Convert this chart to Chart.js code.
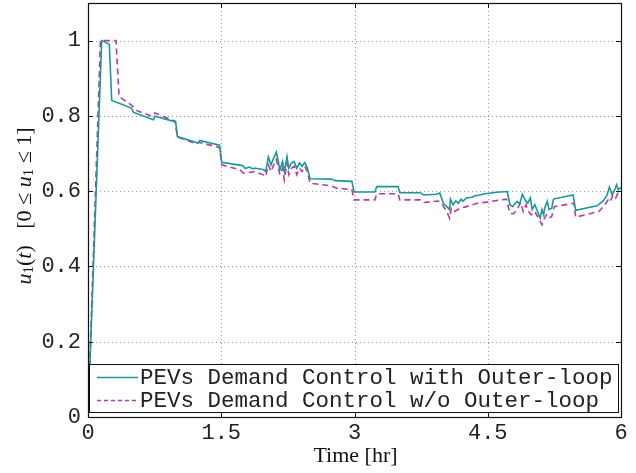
<!DOCTYPE html>
<html>
<head>
<meta charset="utf-8">
<script src="https://cdn.jsdelivr.net/npm/chart.js@4/dist/chart.umd.min.js"></script>
<style>
  html, body { margin: 0; padding: 0; background: #fff; }
  #wrap { width: 636px; height: 473px; }
</style>
</head>
<body>
<div id="wrap"><canvas id="myChart" width="636" height="473"></canvas></div>
<script>
"use strict";

// with outer-loop (teal, solid)
const withTime = [0, 0.154, 0.24, 0.267, 0.49, 0.51, 0.735, 0.754, 0.987, 1.006,
  1.24, 1.26, 1.48, 1.505, 1.74, 1.77, 1.815, 1.85, 1.88, 1.94,
  1.98, 2.0, 2.03, 2.06, 2.09, 2.12, 2.16, 2.19, 2.21, 2.24,
  2.26, 2.29, 2.32, 2.35, 2.38, 2.41, 2.44, 2.47, 2.5, 2.74,
  2.78, 2.97, 2.995, 3.23, 3.25, 3.49, 3.51, 3.74, 3.78, 3.92,
  3.96, 4.0, 4.04, 4.07, 4.08, 4.11, 4.14, 4.17, 4.2, 4.22,
  4.26, 4.32, 4.36, 4.41, 4.47, 4.6, 4.72, 4.75, 4.78, 4.81,
  4.83, 4.86, 4.89, 4.92, 4.95, 4.98, 5.0, 5.03, 5.06, 5.09,
  5.11, 5.13, 5.14, 5.17, 5.19, 5.22, 5.24, 5.46, 5.49, 5.73,
  5.8, 5.84, 5.87, 5.9, 5.93, 5.95, 5.97, 6.0];
const withValues = [0, 1.0, 0.99, 0.841, 0.821, 0.81, 0.79, 0.799, 0.784, 0.745,
  0.728, 0.735, 0.722, 0.677, 0.668, 0.66, 0.664, 0.66, 0.661, 0.659,
  0.657, 0.652, 0.691, 0.67, 0.688, 0.704, 0.657, 0.679, 0.652, 0.692,
  0.661, 0.675, 0.679, 0.661, 0.675, 0.666, 0.676, 0.661, 0.633, 0.632,
  0.628, 0.626, 0.598, 0.598, 0.612, 0.612, 0.596, 0.596, 0.59, 0.592,
  0.595, 0.568, 0.559, 0.551, 0.579, 0.564, 0.574, 0.568, 0.579, 0.573,
  0.582, 0.584, 0.588, 0.59, 0.593, 0.597, 0.599, 0.564, 0.559, 0.568,
  0.573, 0.566, 0.592, 0.577, 0.568, 0.582, 0.551, 0.564, 0.546, 0.528,
  0.551, 0.537, 0.555, 0.573, 0.551, 0.555, 0.579, 0.59, 0.549, 0.561,
  0.574, 0.588, 0.611, 0.59, 0.604, 0.617, 0.604, 0.61];

// without outer-loop (magenta, dashed)
const woTime = [0, 0.14, 0.315, 0.35, 0.51, 0.55, 0.72, 0.754, 0.98, 1.006,
  1.22, 1.25, 1.48, 1.505, 1.71, 1.75, 1.88, 1.97, 2.0, 2.03,
  2.06, 2.09, 2.12, 2.16, 2.19, 2.21, 2.24, 2.26, 2.29, 2.32,
  2.35, 2.38, 2.41, 2.44, 2.47, 2.5, 2.74, 2.8, 2.97, 2.995,
  3.23, 3.25, 3.49, 3.51, 3.74, 3.78, 3.94, 3.99, 4.04, 4.07,
  4.09, 4.13, 4.19, 4.26, 4.38, 4.49, 4.71, 4.75, 4.79, 4.83,
  4.87, 4.9, 4.93, 4.95, 4.99, 5.03, 5.06, 5.11, 5.13, 5.16,
  5.19, 5.22, 5.25, 5.47, 5.49, 5.75, 5.82, 5.86, 5.88, 5.91,
  5.94, 5.97, 6.0];
const woValues = [0, 1.0, 1.0, 0.852, 0.825, 0.814, 0.799, 0.808, 0.786, 0.744,
  0.726, 0.73, 0.716, 0.67, 0.657, 0.648, 0.652, 0.644, 0.639, 0.67,
  0.652, 0.67, 0.684, 0.644, 0.661, 0.63, 0.675, 0.644, 0.661, 0.666,
  0.644, 0.661, 0.652, 0.666, 0.652, 0.621, 0.614, 0.608, 0.604, 0.577,
  0.577, 0.593, 0.593, 0.577, 0.577, 0.57, 0.574, 0.564, 0.546, 0.528,
  0.555, 0.546, 0.555, 0.559, 0.568, 0.571, 0.579, 0.541, 0.54, 0.551,
  0.57, 0.546, 0.564, 0.549, 0.537, 0.546, 0.533, 0.511, 0.524, 0.537,
  0.528, 0.533, 0.559, 0.568, 0.531, 0.546, 0.564, 0.579, 0.573, 0.59,
  0.582, 0.597, 0.6];

const seriesNames = ["PEVs Demand Control with Outer-loop", "PEVs Demand Control w/o Outer-loop"];
const xTicks = [0, 1.5, 3, 4.5, 6];
const yTicks = [0, 0.2, 0.4, 0.6, 0.8, 1];

const tealColor = "rgb(28,150,150)";
const magentaColor = "rgb(180,60,165)";
const monoFont = "'Liberation Mono', 'DejaVu Sans Mono', monospace";
const serifFont = "'Liberation Serif', 'DejaVu Serif', serif";

function toPoints(times, values) {
  let pts = [];
  for (let i = 0; i < times.length; i++) {
    pts.push({ x: times[i], y: values[i] });
  }
  return pts;
}

// box, dotted grid and inward tick marks, matlab style
const frame = {
  id: "frame",
  beforeDatasetsDraw(chart) {
    const ctx = chart.ctx;
    const a = chart.chartArea;
    const xs = chart.scales.x;
    const ys = chart.scales.y;
    ctx.save();
    ctx.strokeStyle = "#9a9a9a";
    ctx.lineWidth = 1;
    ctx.setLineDash([1, 3]);
    xTicks.forEach(function (t) {
      if (t === 0 || t === 6) return;
      const px = Math.round(xs.getPixelForValue(t)) + 0.5;
      ctx.beginPath();
      ctx.moveTo(px, a.top);
      ctx.lineTo(px, a.bottom);
      ctx.stroke();
    });
    yTicks.forEach(function (t) {
      if (t === 0) return;
      const py = Math.round(ys.getPixelForValue(t)) + 0.5;
      ctx.beginPath();
      ctx.moveTo(a.left, py);
      ctx.lineTo(a.right, py);
      ctx.stroke();
    });
    ctx.restore();
  },
  afterDraw(chart) {
    const ctx = chart.ctx;
    const a = chart.chartArea;
    const xs = chart.scales.x;
    const ys = chart.scales.y;
    ctx.save();
    ctx.strokeStyle = "#111";
    ctx.lineWidth = 1;
    ctx.setLineDash([]);
    xTicks.forEach(function (t) {
      const px = Math.round(xs.getPixelForValue(t)) + 0.5;
      ctx.beginPath();
      ctx.moveTo(px, a.bottom);
      ctx.lineTo(px, a.bottom - 5);
      ctx.moveTo(px, a.top);
      ctx.lineTo(px, a.top + 5);
      ctx.stroke();
    });
    yTicks.forEach(function (t) {
      const py = Math.round(ys.getPixelForValue(t)) + 0.5;
      ctx.beginPath();
      ctx.moveTo(a.left, py);
      ctx.lineTo(a.left + 5, py);
      ctx.moveTo(a.right, py);
      ctx.lineTo(a.right - 5, py);
      ctx.stroke();
    });

    // legend box
    const lx = a.left + 1, ly = 364, lw = a.right - a.left - 3, lh = 48;
    ctx.fillStyle = "#fff";
    ctx.fillRect(lx, ly, lw, lh);
    ctx.strokeRect(lx + 0.5, ly + 0.5, lw - 1, lh);
    ctx.font = "22.5px " + monoFont;
    ctx.fillStyle = "#222";
    ctx.textBaseline = "middle";
    ctx.textAlign = "left";
    const rows = [ly + 13, ly + 36];
    const colors = [tealColor, magentaColor];
    const dashes = [[], [4, 3]];
    for (let i = 0; i < 2; i++) {
      ctx.strokeStyle = colors[i];
      ctx.lineWidth = 1.5;
      ctx.setLineDash(dashes[i]);
      ctx.beginPath();
      ctx.moveTo(a.left + 9, rows[i] + 0.5);
      ctx.lineTo(a.left + 50, rows[i] + 0.5);
      ctx.stroke();
      ctx.fillText(seriesNames[i], a.left + 52, rows[i] + 1);
    }

    // outer box on top
    ctx.setLineDash([]);
    ctx.strokeStyle = "#111";
    ctx.lineWidth = 1.2;
    ctx.strokeRect(a.left + 0.5, a.top + 0.5, a.right - a.left, a.bottom - a.top);

    // x title
    ctx.fillStyle = "#111";
    ctx.font = "22px " + serifFont;
    ctx.textAlign = "center";
    ctx.fillText("Time [hr]", (a.left + a.right) / 2 + 1, 456);

    // y title, rotated, mixed italic pieces
    const big = "22px " + serifFont;
    const ital = "italic 22px " + serifFont;
    const sub = "15px " + serifFont;
    const pieces = [
      { t: "u", f: ital, dy: 0 },
      { t: "1", f: sub, dy: 4 },
      { t: "(", f: big, dy: 0 },
      { t: "t", f: ital, dy: 0 },
      { t: ")", f: big, dy: 0 },
      { t: "   [0 ", f: big, dy: 0 },
      { t: "\u2264", f: big, dy: 0 },
      { t: " ", f: big, dy: 0 },
      { t: "u", f: ital, dy: 0 },
      { t: "1", f: sub, dy: 4 },
      { t: " \u2264 1]", f: big, dy: 0 }
    ];
    let total = 0;
    pieces.forEach(function (p) {
      ctx.font = p.f;
      p.w = ctx.measureText(p.t).width;
      total += p.w;
    });
    ctx.translate(25, 206);
    ctx.rotate(-Math.PI / 2);
    ctx.textAlign = "left";
    let cx = -total / 2;
    pieces.forEach(function (p) {
      ctx.font = p.f;
      ctx.fillText(p.t, cx, p.dy);
      cx += p.w;
    });
    ctx.restore();
  }
};

const data = {
  datasets: [
    {
      label: seriesNames[0],
      data: toPoints(withTime, withValues),
      borderColor: tealColor,
      borderWidth: 1.6,
      pointRadius: 0,
      tension: 0,
      fill: false
    },
    {
      label: seriesNames[1],
      data: toPoints(woTime, woValues),
      borderColor: magentaColor,
      borderWidth: 1.6,
      borderDash: [6, 4],
      pointRadius: 0,
      tension: 0,
      fill: false
    }
  ]
};

function noPad(scale) {
  scale.paddingTop = 0;
  scale.paddingBottom = 0;
  scale.paddingLeft = 0;
  scale.paddingRight = 0;
}

const config = {
  type: "line",
  data: data,
  options: {
    responsive: false,
    animation: false,
    layout: { padding: { top: 3, right: 15, left: 0, bottom: 0 } },
    plugins: {
      legend: { display: false },
      tooltip: { enabled: false }
    },
    scales: {
      x: {
        type: "linear",
        min: 0,
        max: 6,
        afterBuildTicks: function (scale) {
          scale.ticks = xTicks.map(function (v) { return { value: v }; });
        },
        afterFit: function (scale) { scale.height = 56; noPad(scale); },
        grid: { display: false, drawTicks: false },
        border: { display: false },
        ticks: {
          padding: 3,
          color: "#222",
          font: { family: monoFont, size: 22 },
          maxRotation: 0,
          callback: function (v) { return String(v); }
        }
      },
      y: {
        type: "linear",
        min: 0,
        max: 1.1,
        afterBuildTicks: function (scale) {
          scale.ticks = yTicks.map(function (v) { return { value: v }; });
        },
        afterFit: function (scale) { scale.width = 88; noPad(scale); },
        grid: { display: false, drawTicks: false },
        border: { display: false },
        ticks: {
          padding: 7,
          color: "#222",
          font: { family: monoFont, size: 22 },
          callback: function (v) { return String(Math.round(v * 10) / 10); }
        }
      }
    }
  },
  plugins: [frame]
};

const canvasChart = document.getElementById("myChart");
new Chart(canvasChart, config);
</script>
</body>
</html>
